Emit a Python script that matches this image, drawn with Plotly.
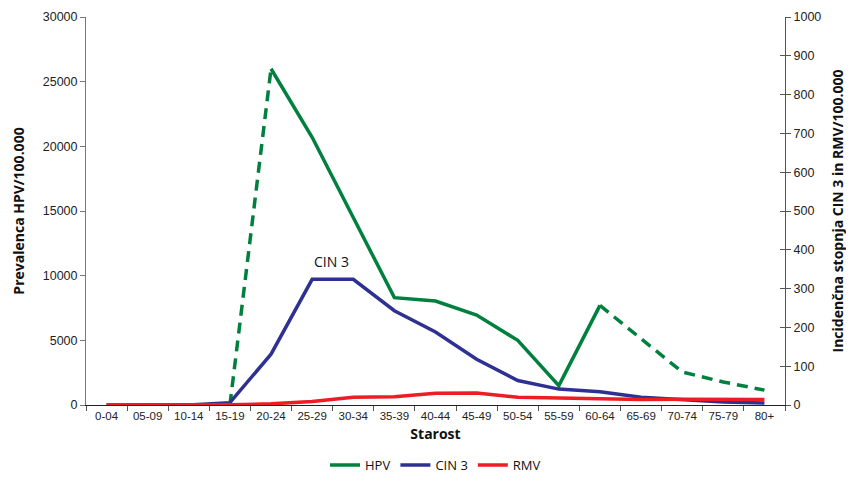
import plotly.graph_objects as go

categories = ["0-04", "05-09", "10-14", "15-19", "20-24", "25-29", "30-34", "35-39",
              "40-44", "45-49", "50-54", "55-59", "60-64", "65-69", "70-74", "75-79", "80+"]
hpv = [None, None, None, 0, 26000, 20700, 14500, 8300, 8040, 6950, 5000, 1500, 7700,
       5100, 2550, 1780, 1150]
cin3 = [0, 0, 0, 6, 131, 324, 324, 243, 188, 118, 63, 41, 34, 20, 14, 8, 5]
rmv = [0, 0, 0, 0.5, 3, 9, 20, 21, 30, 31, 20, 18, 17, 14, 15, 15, 14]

solid_idx = range(4, 13)      # 20-24 .. 60-64 solid
dash1_idx = range(3, 5)       # 15-19 .. 20-24 dashed
dash2_idx = range(12, 17)     # 60-64 .. 80+ dashed

GREEN = "#00803E"
BLUE = "#2E3192"
RED = "#EE1C25"

fig = go.Figure()

def seg(idx):
    return [hpv[i] if i in idx else None for i in range(len(categories))]

fig.add_trace(go.Scatter(x=categories, y=seg(solid_idx), mode="lines", name="HPV",
                         line=dict(color=GREEN, width=3.5), connectgaps=False))
fig.add_trace(go.Scatter(x=categories, y=seg(dash1_idx), mode="lines", showlegend=False,
                         line=dict(color=GREEN, width=3.5, dash="11px,7px")))
fig.add_trace(go.Scatter(x=categories, y=seg(dash2_idx), mode="lines", showlegend=False,
                         line=dict(color=GREEN, width=3.5, dash="11px,7px")))
fig.add_trace(go.Scatter(x=categories, y=cin3, mode="lines", name="CIN 3", yaxis="y2",
                         line=dict(color=BLUE, width=3.5)))
fig.add_trace(go.Scatter(x=categories, y=rmv, mode="lines", name="RMV", yaxis="y2",
                         line=dict(color=RED, width=3.5)))
fig.add_trace(go.Scatter(x=[categories[0]], y=[None], yaxis="y3", showlegend=False,
                         hoverinfo="skip"))

tickfont = dict(family="Liberation Sans, Arial, sans-serif", size=12.5, color="#222222")
titlefont = dict(family="Open Sans, Noto Sans, sans-serif", size=14, color="#111111")

fig.update_layout(
    width=846, height=475,
    margin=dict(l=78, r=69, t=9, b=78, autoexpand=False),
    paper_bgcolor="white", plot_bgcolor="white",
    showlegend=True,
    legend=dict(orientation="h", x=0.5, xanchor="center", y=-0.155, yanchor="middle",
                font=dict(family="Open Sans, Noto Sans, sans-serif", size=13, color="#111"),
                traceorder="normal", itemwidth=30, tracegroupgap=0),
    xaxis=dict(
        type="category", range=[-0.5, 16.5], tickson="boundaries", automargin=False,
        ticks="outside", ticklen=5, tickcolor="#555", showline=True, linecolor="#222",
        linewidth=1, showgrid=False,
        tickfont=dict(family="Liberation Sans, Arial", size=11.5, color="#222"),
        title=dict(text="<b>Starost</b>", font=titlefont, standoff=8),
    ),
    yaxis=dict(
        range=[0, 30000], dtick=5000, tickformat="d", ticks="outside", ticklen=5,
        tickcolor="#777", showline=True, linecolor="#777", linewidth=1, showgrid=False,
        zeroline=False, tickfont=tickfont, automargin=False,
        title=dict(text="<b>Prevalenca HPV/100.000</b>", font=titlefont, standoff=14),
    ),
    yaxis2=dict(
        range=[0, 1000], dtick=100, tickformat="d", overlaying="y", side="right",
        ticks="outside", ticklen=5, tickcolor="#555", showline=True, linecolor="#555",
        linewidth=1, showgrid=False, zeroline=False, tickfont=tickfont, automargin=False,
        title=dict(text="<b>Incidenčna stopnja CIN 3 in RMV/100.000</b>", font=titlefont,
                   standoff=12),
    ),
    yaxis3=dict(
        range=[0, 1000], dtick=100, overlaying="y", side="right", ticks="inside",
        ticklen=5, tickcolor="#555", showticklabels=False, showgrid=False,
        zeroline=False, showline=False, automargin=False,
    ),
    annotations=[dict(x="25-29", y=11100, xref="x", yref="y", text="CIN 3",
                      showarrow=False, xanchor="left", xshift=0,
                      font=dict(family="Open Sans, Noto Sans, sans-serif", size=14, color="#111"))],
)

fig.write_html("out.html")
